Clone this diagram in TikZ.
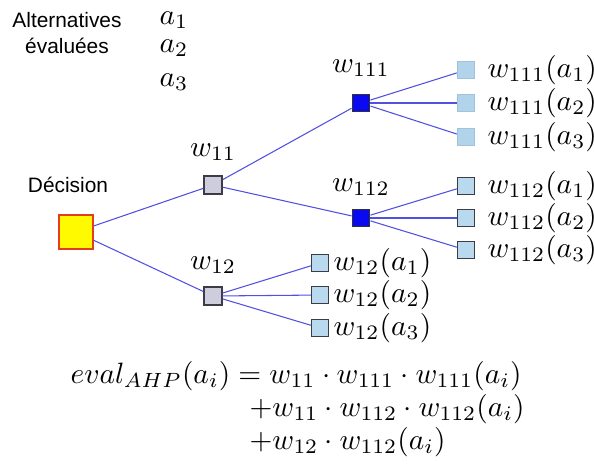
\documentclass[tikz,border=0pt]{standalone}
\usepackage{fontspec}
\newfontfamily\labelsans{Liberation Sans}
\begin{document}
\begin{tikzpicture}[x=0.34pt,y=-0.34pt,
  mathlbl/.style={inner sep=0pt,font=\fontsize{10}{12}\selectfont},
  formula/.style={inner sep=0pt,font=\fontsize{10}{12}\selectfont},
  sanslbl/.style={inner sep=0pt,font=\labelsans\fontsize{7.1}{8.5}\selectfont},
  edge/.style={draw=edgeblue,line width=0.36pt},
  decbox/.style={draw=decred,fill=decyellow,line width=0.5pt,minimum size=11.5pt,inner sep=0pt},
  midbox/.style={draw=boxborder,fill=midgray,line width=0.5pt,minimum size=6.1pt,inner sep=0pt},
  bluebox/.style={draw=black!80,fill=boxblue,line width=0.5pt,minimum size=5.9pt,inner sep=0pt},
  leafbox/.style={draw=boxborder,fill=leafblue,line width=0.45pt,minimum size=5.8pt,inner sep=0pt},
  paleleaf/.style={draw=paleborder,fill=paleblue,line width=0.45pt,minimum size=5.8pt,inner sep=0pt}
]
\definecolor{edgeblue}{RGB}{80,80,225}
\definecolor{decred}{RGB}{230,60,30}
\definecolor{decyellow}{RGB}{255,250,0}
\definecolor{boxborder}{RGB}{60,60,70}
\definecolor{midgray}{RGB}{205,205,222}
\definecolor{boxblue}{RGB}{10,10,240}
\definecolor{leafblue}{RGB}{185,218,238}
\definecolor{paleblue}{RGB}{178,212,235}
\definecolor{paleborder}{RGB}{160,195,220}
\useasboundingbox (0,0) rectangle (594,466);

% top-left legend
\node[sanslbl] (alt) at (67,20) {Alternatives};
\node[sanslbl] (eva) at (67,46) {évaluées};
\node[mathlbl] (la1) at (174,20) {$a_1$};
\node[mathlbl] (la2) at (174,48) {$a_2$};
\node[mathlbl] (la3) at (174,82) {$a_3$};
\node[sanslbl] (declbl) at (68,185) {Décision};

% boxes
\node[decbox] (dec) at (76,232) {};
\node[midbox] (w11) at (213,185) {};
\node[midbox] (w12) at (213,296) {};
\node[bluebox] (w111) at (361,103) {};
\node[bluebox] (w112) at (361,218) {};

\node[paleleaf] (l1a) at (466,70) {};
\node[paleleaf] (l1b) at (466,103) {};
\node[paleleaf] (l1c) at (466,137) {};
\node[leafbox] (l2a) at (466,186) {};
\node[leafbox] (l2b) at (466,218) {};
\node[leafbox] (l2c) at (466,250) {};
\node[leafbox] (l3a) at (320,263) {};
\node[leafbox] (l3b) at (320,295) {};
\node[leafbox] (l3c) at (320,328) {};

% edges
\draw[edge] (dec) -- (w11);
\draw[edge] (dec) -- (w12);
\draw[edge] (w11) -- (w111);
\draw[edge] (w11) -- (w112);
\draw[edge] (w111) -- (l1a);
\draw[edge] (w111) -- (l1b);
\draw[edge] (w111) -- (l1c);
\draw[edge] (w112) -- (l2a);
\draw[edge] (w112) -- (l2b);
\draw[edge] (w112) -- (l2c);
\draw[edge] (w12) -- (l3a);
\draw[edge] (w12) -- (l3b);
\draw[edge] (w12) -- (l3c);

% labels
\node[mathlbl] (tw11) at (213,152) {$w_{11}$};
\node[mathlbl] (tw12) at (213,265) {$w_{12}$};
\node[mathlbl] (tw111) at (361,68) {$w_{111}$};
\node[mathlbl] (tw112) at (361,187) {$w_{112}$};

\node[mathlbl,anchor=west] (t1a) at (487,70) {$w_{111}(a_1)$};
\node[mathlbl,anchor=west] (t1b) at (487,103) {$w_{111}(a_2)$};
\node[mathlbl,anchor=west] (t1c) at (487,137) {$w_{111}(a_3)$};
\node[mathlbl,anchor=west] (t2a) at (487,186) {$w_{112}(a_1)$};
\node[mathlbl,anchor=west] (t2b) at (487,218) {$w_{112}(a_2)$};
\node[mathlbl,anchor=west] (t2c) at (487,250) {$w_{112}(a_3)$};
\node[mathlbl,anchor=west] (t3a) at (333,263) {$w_{12}(a_1)$};
\node[mathlbl,anchor=west] (t3b) at (333,295) {$w_{12}(a_2)$};
\node[mathlbl,anchor=west] (t3c) at (333,328) {$w_{12}(a_3)$};

% formula
\node[formula,anchor=base west] (f1) at (70,383) {$eval_{AHP}(a_i) = w_{11}\cdot w_{111}\cdot w_{111}(a_i)$};
\node[formula,anchor=base west] (f2) at (249,416) {$+w_{11}\cdot w_{112}\cdot w_{112}(a_i)$};
\node[formula,anchor=base west] (f3) at (249,449) {$+w_{12}\cdot w_{112}(a_i)$};
\end{tikzpicture}
\end{document}
